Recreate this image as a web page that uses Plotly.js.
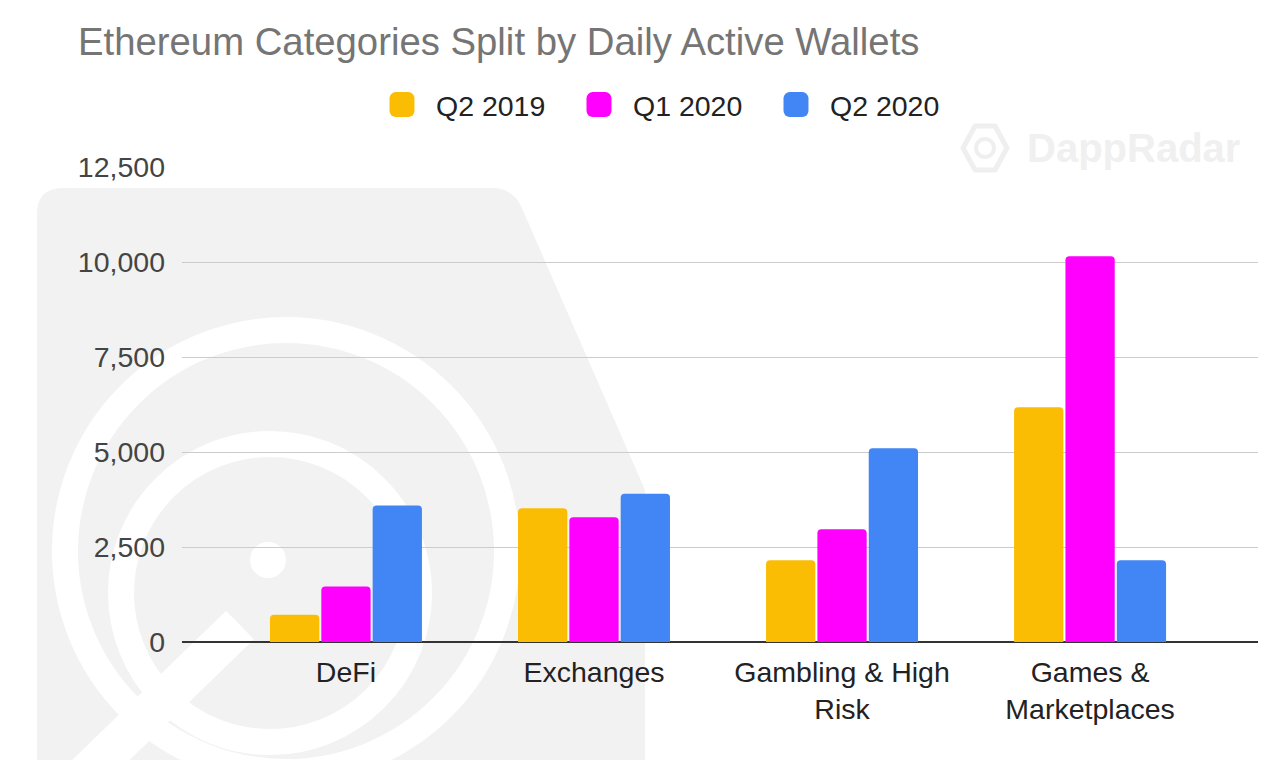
<!DOCTYPE html>
<html>
<head>
<meta charset="utf-8">
<script src="https://cdn.plot.ly/plotly-3.0.1.min.js"></script>
<style>
  html, body { margin:0; padding:0; background:#ffffff; }
  #wrap { position:relative; width:1272px; height:778px; overflow:hidden; }
  #bg { position:absolute; left:0; top:0; }
  #chart { position:absolute; left:0; top:0; width:1272px; height:778px; }
  .legend .legendpoints path { transform: translate(6px, 0px) scale(2.08); }
  .legend .scrollbox, .legend g[clip-path] { clip-path: none !important; }
</style>
</head>
<body>
<div id="wrap">
  <svg id="bg" width="1272" height="778" xmlns="http://www.w3.org/2000/svg">
    <path d="M37,214 Q37,188 63,188 L492,188 Q512,188 521,206 L645,490 L645,760 L37,760 Z" fill="#f2f2f2"/>
    <circle cx="286" cy="551" r="221" fill="none" stroke="#ffffff" stroke-width="26"/>
    <circle cx="270" cy="593" r="149" fill="none" stroke="#ffffff" stroke-width="26"/>
    <circle cx="268" cy="560" r="18" fill="#ffffff"/>
    <line x1="70" y1="790" x2="240" y2="625" stroke="#ffffff" stroke-width="40"/>
    <rect x="0" y="760" width="1272" height="18" fill="#ffffff"/>
    <path d="M975,126 L995,126 L1007,148 L995,170 L975,170 L963,148 Z" fill="none" stroke="#efefef" stroke-width="5" stroke-linejoin="round"/>
    <circle cx="985" cy="148" r="9" fill="none" stroke="#efefef" stroke-width="4"/>
  </svg>
  <div id="chart"></div>
</div>
<script>
const categories = ['DeFi', 'Exchanges', 'Gambling & High<br>Risk', 'Games &<br>Marketplaces'];
const seriesNames = ['Q2 2019', 'Q1 2020', 'Q2 2020'];
const q2_2019 = [720, 3520, 2150, 6175];
const q1_2020 = [1460, 3280, 2970, 10150];
const q2_2020 = [3590, 3900, 5100, 2150];
const yTicks = [0, 2500, 5000, 7500, 10000, 12500];
const colors = ['#fbbc04', '#ff00ff', '#4285f4'];

const FONT = '"Liberation Sans", Arial, Helvetica, sans-serif';
const values = [q2_2019, q1_2020, q2_2020];
const traces = values.map((v, i) => ({
  type: 'bar',
  name: seriesNames[i],
  x: categories,
  y: v,
  marker: { color: colors[i], line: { width: 0 } },
  hoverinfo: 'x+y+name'
}));

const layout = {
  width: 1272,
  height: 778,
  margin: { l: 182, r: 14, t: 167, b: 136, pad: 0 },
  paper_bgcolor: 'rgba(0,0,0,0)',
  plot_bgcolor: 'rgba(0,0,0,0)',
  font: { family: FONT, color: '#222222' },
  title: {
    text: 'Ethereum Categories Split by Daily Active Wallets',
    xref: 'container', yref: 'container',
    x: 78 / 1272, xanchor: 'left',
    y: 1 - 42 / 778, yanchor: 'middle',
    font: { family: FONT, size: 38.3, color: '#757575' }
  },
  barmode: 'group',
  bargap: 0.379,
  bargroupgap: 0.04,
  barcornerradius: 4,
  showlegend: true,
  legend: {
    orientation: 'h',
    x: 0.4735, xanchor: 'center',
    y: 1.1305, yanchor: 'middle',
    font: { family: FONT, size: 28.5, color: '#222222' },
    traceorder: 'normal',
    entrywidth: 152,
    entrywidthmode: 'pixels',
    bgcolor: 'rgba(0,0,0,0)'
  },
  xaxis: {
    type: 'category',
    range: [-0.661, 3.677],
    showgrid: false,
    zeroline: false,
    showline: false,
    ticks: '',
    tickfont: { family: FONT, size: 28.5, color: '#222222' },
    ticklabelstandoff: 10,
    fixedrange: true
  },
  yaxis: {
    range: [0, 12500],
    tickvals: yTicks,
    tickformat: ',d',
    showgrid: true,
    gridcolor: '#cccccc',
    gridwidth: 1,
    zeroline: true,
    zerolinecolor: '#333333',
    zerolinewidth: 1.5,
    showline: false,
    ticks: '',
    tickfont: { family: FONT, size: 28.5, color: '#444444' },
    ticklabelstandoff: 16,
    fixedrange: true
  },
  annotations: [{
    text: '<b>DappRadar</b>',
    xref: 'paper', yref: 'paper',
    x: (1133 - 182) / 1076, y: (642 - 148) / 475,
    xanchor: 'center', yanchor: 'middle',
    showarrow: false,
    font: { family: FONT, size: 40, color: '#f0f0f0' }
  }]
};

Plotly.newPlot('chart', traces, layout, { staticPlot: true, displayModeBar: false });
</script>
</body>
</html>
